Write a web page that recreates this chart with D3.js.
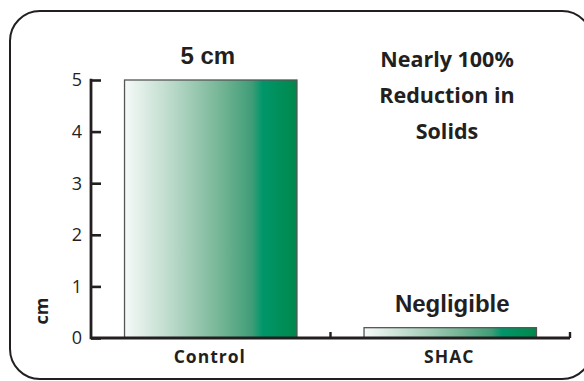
<!DOCTYPE html>
<html>
<head>
<meta charset="utf-8">
<script src="https://cdn.jsdelivr.net/npm/d3@7"></script>
<style>
  html, body { margin: 0; padding: 0; background: #fff; }
  svg { display: block; }
</style>
</head>
<body>
<svg id="chart" width="584" height="381"></svg>
<script>
// Solids build-up, in cm
const categories = ["Control", "SHAC"];
const values = [5, 0.2];
const valueLabels = ["5 cm", "Negligible"];
const yTicks = [0, 1, 2, 3, 4, 5];
const noteLines = ["Nearly 100%", "Reduction in", "Solids"];

const ink = "#231f20";
const svg = d3.select("#chart");

// Rounded frame (right edge runs past the visible area)
svg.append("rect")
  .attr("x", 10).attr("y", 11)
  .attr("width", 582).attr("height", 368)
  .attr("rx", 30).attr("ry", 30)
  .attr("fill", "none").attr("stroke", ink).attr("stroke-width", 2);

// Horizontal white-to-green gradient for the bars
const grad = svg.append("defs").append("linearGradient")
  .attr("id", "barGrad").attr("x1", "0%").attr("x2", "100%").attr("y1", "0%").attr("y2", "0%");
[[0, "#f6faf8"], [0.3, "#b4d6c5"], [0.55, "#76b696"], [0.74, "#3f9d77"],
 [0.8, "#00966a"], [1, "#00884b"]]
  .forEach(([o, c]) => grad.append("stop").attr("offset", o).attr("stop-color", c));

const x = d3.scaleBand().domain(categories).range([91, 570])
  .paddingInner(0.28).paddingOuter(0.14);
const y = d3.scaleLinear().domain([0, 5]).range([338, 80]);

// Bars
svg.selectAll("rect.bar").data(values).join("rect")
  .attr("class", "bar")
  .attr("x", (d, i) => x(categories[i]))
  .attr("y", d => y(d))
  .attr("width", x.bandwidth())
  .attr("height", d => y(0) - y(d))
  .attr("fill", "url(#barGrad)")
  .attr("stroke", "#555").attr("stroke-width", 1.3);

// Y axis: ticks pointing into the plot
const yAxis = d3.axisRight(y).tickValues(yTicks).tickSize(10).tickFormat("");
const gy = svg.append("g").attr("transform", "translate(91,0)").call(yAxis);
gy.select(".domain").remove();
gy.selectAll(".tick line").attr("stroke", ink).attr("stroke-width", 2.6);
svg.append("line")
  .attr("x1", 91).attr("x2", 91).attr("y1", y(5) - 1.3).attr("y2", y(0) + 1.3)
  .attr("stroke", ink).attr("stroke-width", 2.8);

svg.append("g").selectAll("text").data(yTicks).join("text")
  .attr("x", 82).attr("y", d => y(d))
  .attr("dy", "0.35em")
  .attr("text-anchor", "end")
  .attr("font-family", "'Open Sans', sans-serif")
  .attr("font-size", 18)
  .attr("fill", ink)
  .text(d => d);

// X axis baseline with boundary ticks between categories
svg.append("line")
  .attr("x1", 91).attr("x2", 570).attr("y1", y(0)).attr("y2", y(0))
  .attr("stroke", ink).attr("stroke-width", 2.8);
const bounds = categories.map(c => x(c) + x.bandwidth() + x.step() * 0.14);
svg.selectAll("line.xtick").data(bounds).join("line")
  .attr("class", "xtick")
  .attr("x1", d => d).attr("x2", d => d)
  .attr("y1", y(0)).attr("y2", y(0) - 6)
  .attr("stroke", ink).attr("stroke-width", 2.4);

// Category labels
svg.selectAll("text.cat").data(categories).join("text")
  .attr("class", "cat")
  .attr("x", d => x(d) + x.bandwidth() / 2 - 1)
  .attr("y", 363)
  .attr("text-anchor", "middle")
  .attr("font-family", "'Open Sans', sans-serif")
  .attr("font-weight", "bold")
  .attr("font-size", 17.5)
  .attr("letter-spacing", 1)
  .attr("fill", ink)
  .text(d => d);

// Axis title
svg.append("text")
  .attr("transform", "translate(48,311) rotate(-90)")
  .attr("text-anchor", "middle")
  .attr("font-family", "'Open Sans', sans-serif")
  .attr("font-weight", "bold")
  .attr("font-size", 18)
  .attr("fill", ink)
  .text("cm");

// Value labels above bars
svg.selectAll("text.val").data(values).join("text")
  .attr("class", "val")
  .attr("x", (d, i) => x(categories[i]) + x.bandwidth() / 2 + (i === 0 ? -3 : 2))
  .attr("y", d => y(d) - 16)
  .attr("text-anchor", "middle")
  .attr("font-family", "'Liberation Sans', Arial, sans-serif")
  .attr("font-weight", "bold")
  .attr("font-size", 24)
  .attr("fill", ink)
  .text((d, i) => valueLabels[i]);

// Note on the right
svg.append("g").selectAll("text").data(noteLines).join("text")
  .attr("x", 447)
  .attr("y", (d, i) => 67 + i * 35.8)
  .attr("text-anchor", "middle")
  .attr("font-family", "'Open Sans', sans-serif")
  .attr("font-weight", "bold")
  .attr("font-size", 21.5)
  .attr("fill", ink)
  .text(d => d);
</script>
</body>
</html>
